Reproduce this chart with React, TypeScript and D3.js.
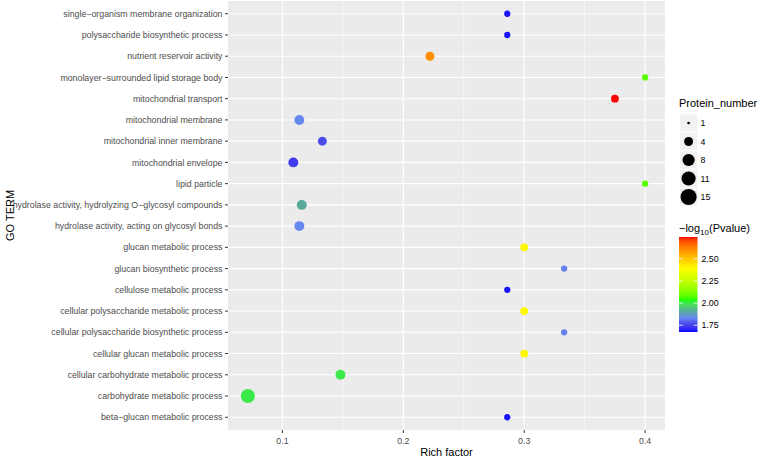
import React, { useRef, useEffect } from 'react';
import * as d3 from 'd3';

// GO terms, top to bottom as shown on the y axis
const terms = [
  "single\u2212organism membrane organization",
  "polysaccharide biosynthetic process",
  "nutrient reservoir activity",
  "monolayer\u2212surrounded lipid storage body",
  "mitochondrial transport",
  "mitochondrial membrane",
  "mitochondrial inner membrane",
  "mitochondrial envelope",
  "lipid particle",
  "hydrolase activity, hydrolyzing O\u2212glycosyl compounds",
  "hydrolase activity, acting on glycosyl bonds",
  "glucan metabolic process",
  "glucan biosynthetic process",
  "cellulose metabolic process",
  "cellular polysaccharide metabolic process",
  "cellular polysaccharide biosynthetic process",
  "cellular glucan metabolic process",
  "cellular carbohydrate metabolic process",
  "carbohydrate metabolic process",
  "beta\u2212glucan metabolic process",
];
const richFactor = [
  0.286, 0.286, 0.222, 0.4, 0.375, 0.114, 0.133, 0.109, 0.4, 0.116,
  0.114, 0.3, 0.333, 0.286, 0.3, 0.333, 0.3, 0.148, 0.0714, 0.286,
];
const proteinNumber = [2, 2, 4, 2, 3, 5, 4, 5, 2, 5, 5, 3, 2, 2, 3, 2, 3, 5, 11, 2];
const logP = [
  1.685, 1.685, 2.6, 2.08, 2.745, 1.835, 1.77, 1.74, 2.08, 1.91,
  1.835, 2.4, 1.83, 1.685, 2.4, 1.83, 2.4, 2.0, 2.0, 1.685,
];
const xTicks = [0.1, 0.2, 0.3, 0.4];
const xMinorTicks = [0.05, 0.15, 0.25, 0.35];
const sizeBreaks = [1, 4, 8, 11, 15];
const colorTicks = [1.75, 2.0, 2.25, 2.5];

// gradient colours (fraction of range -> colour)
const gradStops = [0, 0.09, 0.15, 0.22, 0.333, 0.667, 1];
const gradColors = ["#0000FF", "#4C4CE8", "#6688EE", "#55AA99", "#00FF00", "#FFFF00", "#FF0000"];

function DotPlot() {
  const ref = useRef<SVGSVGElement>(null);

  useEffect(() => {
    const svg = d3.select(ref.current);
    svg.selectAll("*").remove();

    const panel = { left: 228, right: 665, top: 1, bottom: 430 };
    const axisGrey = "#4D4D4D";

    const [xmin, xmax] = d3.extent(richFactor) as [number, number];
    const pad = (xmax - xmin) * 0.05;
    const x = d3.scaleLinear().domain([xmin - pad, xmax + pad]).range([panel.left, panel.right]);
    const y = d3.scalePoint<string>().domain(terms).range([panel.top, panel.bottom]).padding(0.6);

    const [pmin, pmax] = d3.extent(logP) as [number, number];
    const pLo = 1.674; // bottom of the colour bar
    const color = d3.scaleLinear<string>()
      .domain(gradStops.map(f => pLo + f * (pmax - pLo)))
      .range(gradColors)
      .interpolate(d3.interpolateLab)
      .clamp(true);

    const sMin = d3.min(sizeBreaks) as number;
    const sMax = d3.max(sizeBreaks) as number;
    const size = d3.scaleSqrt().domain([0, sMax - sMin]).range([1, 6]);
    const radius = (n: number) => size(n - sMin) * 1.35;

    // panel
    svg.append("rect")
      .attr("x", panel.left).attr("y", panel.top)
      .attr("width", panel.right - panel.left).attr("height", panel.bottom - panel.top)
      .attr("fill", "#EBEBEB");

    const grid = svg.append("g");
    grid.selectAll(".minor")
      .data(xMinorTicks.filter(d => x(d) > panel.left && x(d) < panel.right))
      .enter().append("line")
      .attr("x1", d => x(d)).attr("x2", d => x(d))
      .attr("y1", panel.top).attr("y2", panel.bottom)
      .attr("stroke", "#fff").attr("stroke-width", 0.55);
    grid.selectAll(".majorx")
      .data(xTicks)
      .enter().append("line")
      .attr("x1", d => x(d)).attr("x2", d => x(d))
      .attr("y1", panel.top).attr("y2", panel.bottom)
      .attr("stroke", "#fff").attr("stroke-width", 1.1);
    grid.selectAll(".majory")
      .data(terms)
      .enter().append("line")
      .attr("x1", panel.left).attr("x2", panel.right)
      .attr("y1", d => y(d)!).attr("y2", d => y(d)!)
      .attr("stroke", "#fff").attr("stroke-width", 1.1);

    // points
    svg.append("g").selectAll("circle")
      .data(terms.map((t, i) => ({ t, rf: richFactor[i], n: proteinNumber[i], p: logP[i] })))
      .enter().append("circle")
      .attr("cx", d => x(d.rf))
      .attr("cy", d => y(d.t)!)
      .attr("r", d => radius(d.n))
      .attr("fill", d => color(d.p));

    // y axis
    const yAxis = svg.append("g").attr("fill", axisGrey);
    terms.forEach(t => {
      yAxis.append("line")
        .attr("x1", panel.left - 3).attr("x2", panel.left)
        .attr("y1", y(t)!).attr("y2", y(t)!)
        .attr("stroke", "#333").attr("stroke-width", 1);
      yAxis.append("text")
        .attr("x", panel.left - 5.5).attr("y", y(t)! + 3.1)
        .attr("text-anchor", "end")
        .attr("font-size", 8.8)
        .style("fill", axisGrey)
        .text(t);
    });
    svg.append("text")
      .attr("transform", `translate(14,${(panel.top + panel.bottom) / 2}) rotate(-90)`)
      .attr("text-anchor", "middle")
      .attr("font-size", 11)
      .text("GO TERM");

    // x axis
    const xAxis = svg.append("g");
    xTicks.forEach(t => {
      xAxis.append("line")
        .attr("x1", x(t)).attr("x2", x(t))
        .attr("y1", panel.bottom).attr("y2", panel.bottom + 3)
        .attr("stroke", "#333").attr("stroke-width", 1);
      xAxis.append("text")
        .attr("x", x(t)).attr("y", panel.bottom + 13.5)
        .attr("text-anchor", "middle")
        .attr("font-size", 8.8).attr("fill", axisGrey)
        .text(d3.format(".1f")(t));
    });
    svg.append("text")
      .attr("x", (panel.left + panel.right) / 2).attr("y", 455.5)
      .attr("text-anchor", "middle")
      .attr("font-size", 11)
      .text("Rich factor");

    // size legend
    const lx = 679;
    svg.append("text")
      .attr("x", lx).attr("y", 107)
      .attr("font-size", 11)
      .text("Protein_number");
    sizeBreaks.forEach((b, i) => {
      const cy = 123 + i * 18.5;
      svg.append("rect")
        .attr("x", lx + 1).attr("y", cy - 8.6)
        .attr("width", 17.3).attr("height", 17.3)
        .attr("fill", "#F2F2F2");
      svg.append("circle")
        .attr("cx", lx + 9.6).attr("cy", cy)
        .attr("r", radius(b))
        .attr("fill", "#000");
      svg.append("text")
        .attr("x", lx + 21.5).attr("y", cy + 3.1)
        .attr("font-size", 8.8).attr("fill", "#000")
        .text(b);
    });

    // colour legend
    const title = svg.append("text")
      .attr("x", lx).attr("y", 232)
      .attr("font-size", 11);
    title.append("tspan").text("\u2212log");
    title.append("tspan").attr("font-size", 8).attr("dy", 3).text("10");
    title.append("tspan").attr("dy", -3).text("(Pvalue)");

    const bar = { x: lx, y: 237, w: 18.5, h: 95 };
    const grad = svg.append("defs").append("linearGradient")
      .attr("id", "pgrad")
      .attr("x1", 0).attr("y1", 1).attr("x2", 0).attr("y2", 0);
    d3.range(0, 1.0001, 0.025).forEach(f => {
      grad.append("stop")
        .attr("offset", f)
        .attr("stop-color", color(pLo + f * (pmax - pLo)));
    });
    svg.append("rect")
      .attr("x", bar.x).attr("y", bar.y)
      .attr("width", bar.w).attr("height", bar.h)
      .attr("fill", "url(#pgrad)");
    const cy = d3.scaleLinear().domain([pLo, pmax]).range([bar.y + bar.h, bar.y]);
    colorTicks.forEach(t => {
      const yy = cy(t);
      svg.append("line")
        .attr("x1", bar.x).attr("x2", bar.x + 3.7)
        .attr("y1", yy).attr("y2", yy)
        .attr("stroke", "#fff").attr("stroke-width", 0.8);
      svg.append("line")
        .attr("x1", bar.x + bar.w - 3.7).attr("x2", bar.x + bar.w)
        .attr("y1", yy).attr("y2", yy)
        .attr("stroke", "#fff").attr("stroke-width", 0.8);
      svg.append("text")
        .attr("x", bar.x + bar.w + 4).attr("y", yy + 3.1)
        .attr("font-size", 8.8).attr("fill", "#000")
        .text(d3.format(".2f")(t));
    });
  }, []);

  return (
    <svg
      ref={ref}
      width={758}
      height={458}
      style={{ position: "absolute", left: 0, top: 0, background: "#fff", fontFamily: "'Liberation Sans', Arial, sans-serif" }}
    />
  );
}

export default function App() {
  return <DotPlot />;
}
